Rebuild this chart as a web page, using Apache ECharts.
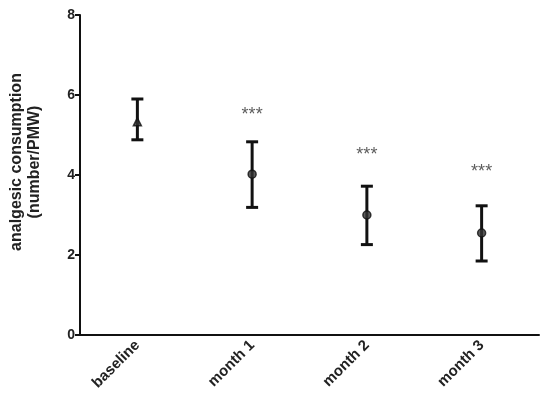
<!DOCTYPE html>
<html>
<head>
<meta charset="utf-8">
<script src="https://cdn.jsdelivr.net/npm/echarts@6/dist/echarts.min.js"></script>
<style>
html, body { margin: 0; padding: 0; background: #fff; }
#main { width: 550px; height: 410px; }
</style>
</head>
<body>
<div id="main"></div>
<script>
// data
var categories = ['baseline', 'month 1', 'month 2', 'month 3'];
var means = [5.33, 4.02, 3.0, 2.55];
var upper = [5.9, 4.83, 3.72, 3.23];
var lower = [4.88, 3.19, 2.26, 1.85];
var starY = [null, 5.5, 4.5, 4.08];
var markers = ['triangle', 'circle', 'circle', 'circle'];
var yTicks = [0, 2, 4, 6, 8];

var myChart = echarts.init(document.getElementById('main'));

var barData = categories.map(function (c, i) { return [i, lower[i], upper[i]]; });
var pointData = categories.map(function (c, i) {
    return { value: [i, means[i]], symbol: markers[i] };
});
var starData = [];
starY.forEach(function (v, i) { if (v != null) starData.push([i, v]); });

option = {
    animation: false,
    backgroundColor: '#fff',
    grid: { left: 78, right: 11, top: 15, bottom: 75 },
    xAxis: {
        type: 'category',
        data: categories,
        boundaryGap: true,
        axisLine: { lineStyle: { color: '#111', width: 2 } },
        axisTick: { alignWithLabel: true, length: 5, lineStyle: { color: '#111', width: 2 } },
        axisLabel: {
            rotate: 45, margin: 8,
            color: '#222', fontWeight: 'bold', fontSize: 15, fontFamily: 'Liberation Sans'
        }
    },
    yAxis: {
        type: 'value',
        min: yTicks[0], max: yTicks[yTicks.length - 1], interval: 2,
        name: 'analgesic consumption\n(number/PMW)',
        nameLocation: 'middle',
        nameGap: 36,
        nameTextStyle: {
            color: '#222', fontWeight: 'bold', fontSize: 16, lineHeight: 18,
            fontFamily: 'Liberation Sans',
            padding: [0, 0, 0, 26]
        },
        splitLine: { show: false },
        axisLine: { show: true, lineStyle: { color: '#111', width: 2 } },
        axisTick: { show: true, length: 5, lineStyle: { color: '#111', width: 2 } },
        axisLabel: {
            margin: 5,
            color: '#222', fontWeight: 'bold', fontSize: 14, fontFamily: 'Liberation Sans'
        }
    },
    series: [{
        type: 'custom',
        data: barData,
        renderItem: function (params, api) {
            var x = api.value(0);
            var lo = api.coord([x, api.value(1)]);
            var hi = api.coord([x, api.value(2)]);
            var hw = 6;
            var st = { stroke: '#111', lineWidth: 3 };
            return {
                type: 'group',
                children: [
                    { type: 'line', shape: { x1: lo[0], y1: lo[1], x2: hi[0], y2: hi[1] }, style: st },
                    { type: 'line', shape: { x1: hi[0] - hw, y1: hi[1], x2: hi[0] + hw, y2: hi[1] }, style: st },
                    { type: 'line', shape: { x1: lo[0] - hw, y1: lo[1], x2: lo[0] + hw, y2: lo[1] }, style: st }
                ]
            };
        },
        z: 2
    }, {
        type: 'scatter',
        data: pointData,
        symbolSize: 8,
        itemStyle: { color: '#333', borderColor: '#111', borderWidth: 1.5 },
        z: 3
    }, {
        type: 'scatter',
        data: starData,
        symbolSize: 0,
        label: {
            show: true, position: 'inside', formatter: '***',
            color: '#333', fontSize: 18, fontFamily: 'Liberation Sans'
        }
    }]
};
myChart.setOption(option);
</script>
</body>
</html>
